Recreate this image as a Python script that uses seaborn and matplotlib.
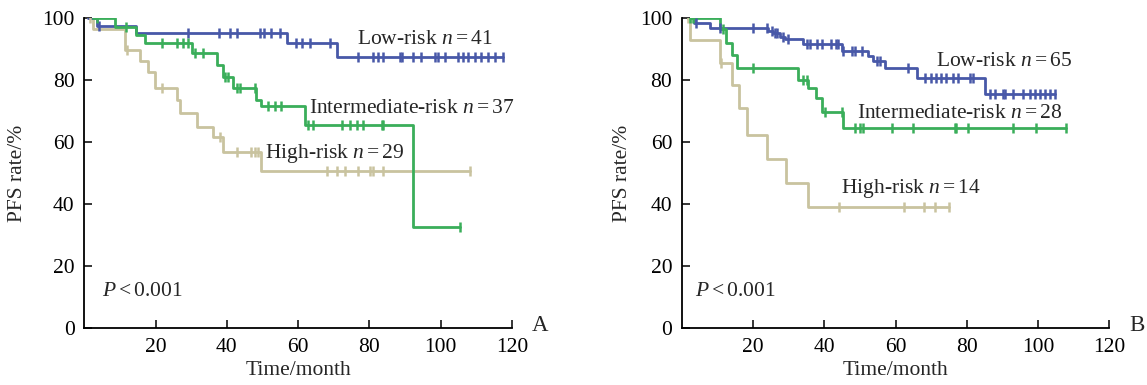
import numpy as np
import pandas as pd
import seaborn as sns
import matplotlib
matplotlib.use("Agg")
import matplotlib.pyplot as plt

# ---- panel A: step times / survival (%) / censor times ----
A_LOW_T = [1, 3.5, 14.5, 57, 71, 117.5]
A_LOW_S = [100, 97.6, 95.1, 92.0, 87.6, 87.6]
A_LOW_CENS = [4, 29, 37.9, 40.8, 42.7, 49.3, 50.4, 52.3, 54.9, 59.3, 61, 63.3, 68.9,
              76.8, 81, 82.4, 83.8, 88.5, 89, 92.2, 94.6, 98.3, 99.3, 101.2, 104.9,
              106.3, 107.7, 109.5, 111.4, 113.3, 115.1, 117.5]

A_MID_T = [2.5, 8.6, 14.5, 17, 30.2, 37.3, 39, 41.8, 48.3, 49.7, 61.8, 92.2, 105.3]
A_MID_S = [100, 97.3, 94.6, 91.9, 88.7, 84.9, 81.2, 77.4, 73.6, 71.8, 65.6, 32.8, 32.8]
A_MID_CENS = [3.5, 11.7, 21.7, 25.9, 27.8, 29.2, 31, 33.4, 39.5, 40.2, 42.7, 43.6, 47.9,
              51.5, 53.5, 55.3, 62.8, 64.2, 72.2, 74.5, 76.4, 78.2, 83.4, 83.8, 105.3]

A_HIGH_T = [1, 2.5, 11.4, 15.6, 17.9, 19.8, 25.9, 26.8, 31.5, 36.2, 39, 49.7, 108.1]
A_HIGH_S = [100, 96.6, 89.7, 86.2, 82.8, 77.6, 73.6, 69.4, 65.0, 61.8, 57.0, 50.8, 50.8]
A_HIGH_CENS = [1.5, 11.9, 21.7, 38, 42.7, 46.9, 47.9, 48.8, 68, 70.8, 73.1, 76.8,
               80.1, 81, 83.8, 108.1]

# ---- panel B ----
B_LOW_T = [2.2, 3.5, 7.9, 24.3, 25.5, 27.5, 28.9, 34.1, 44.9, 52.3, 53.7, 57, 65.9, 85.1, 104.8]
B_LOW_S = [100, 98.5, 96.9, 96.0, 95.2, 94.0, 93.2, 91.6, 89.6, 87.8, 86.3, 83.9, 80.6, 75.5, 75.5]
B_LOW_CENS = [3.9, 10.7, 20, 23.8, 25.2, 26.1, 26.6, 28.5, 29.9, 35, 36, 37.8, 39.2, 42,
              43.4, 43.9, 45.3, 47.7, 48.6, 50.5, 54.7, 55.6, 63.6, 68.3, 70.1, 71.5,
              72.9, 74.3, 76.2, 77.6, 80.9, 81.8, 86.5, 88, 90.3, 90.8, 93, 95.9, 97.8,
              99.2, 100.6, 102, 103.4, 104.8]

B_MID_T = [1.8, 10.7, 12.5, 14, 15.4, 32.7, 35.5, 37.6, 39.2, 45.3, 108]
B_MID_S = [100, 96.4, 92.0, 88.2, 83.9, 80.1, 77.4, 74.2, 69.9, 64.5, 64.5]
B_MID_CENS = [2.2, 3.2, 11.5, 20, 34.1, 35, 40.2, 44.9, 48.6, 50, 51, 58.9, 64.9,
              76.6, 77.1, 80.4, 93, 99.6, 108]

B_HIGH_T = [1.8, 2.2, 10.7, 14, 16.1, 18.2, 23.8, 29.2, 35.5, 75]
B_HIGH_S = [100, 92.9, 85.7, 78.6, 71.0, 62.4, 54.5, 46.8, 39.0, 39.0]
B_HIGH_CENS = [1.8, 11, 44, 62.5, 68, 71, 75]

X_TICKS = [20, 40, 60, 80, 100, 120]
Y_TICKS = [0, 20, 40, 60, 80, 100]

BLUE = "#4858a8"
GREEN = "#3aae5a"
TAN = "#c9c39f"

sns.set_theme(style="ticks")
plt.rcParams["font.family"] = ["Liberation Serif", "DejaVu Serif"]
plt.rcParams["mathtext.fontset"] = "custom"
plt.rcParams["mathtext.rm"] = "Liberation Serif"
plt.rcParams["mathtext.it"] = "Liberation Serif:italic"

FS = 15.5


def step_value(times, surv, t):
    idx = np.searchsorted(times, t, side="right") - 1
    return np.asarray(surv)[np.clip(idx, 0, len(surv) - 1)]


def draw_curve(ax, times, surv, cens, color):
    df = pd.DataFrame({"time": times, "surv": surv})
    sns.lineplot(data=df, x="time", y="surv", ax=ax, color=color, lw=2.0,
                 drawstyle="steps-post", estimator=None, sort=False)
    cdf = pd.DataFrame({"time": cens, "surv": step_value(times, surv, np.array(cens))})
    sns.scatterplot(data=cdf, x="time", y="surv", ax=ax, marker="|", color=color,
                    s=60, linewidth=1.8, zorder=3)


def style_axes(ax, letter, ylab_x):
    ax.set_xlim(0, 120)
    ax.set_ylim(0, 100)
    ax.set_xticks(X_TICKS)
    ax.set_yticks(Y_TICKS)
    ax.tick_params(direction="in", length=6, width=1.1, labelsize=FS, pad=7, colors="black")
    for s in ["left", "bottom"]:
        ax.spines[s].set_linewidth(1.3)
        ax.spines[s].set_color("black")
    sns.despine(ax=ax)
    ax.set_xlabel("Time/month", fontsize=FS)
    ax.set_ylabel("PFS rate/%", fontsize=FS)
    ax.xaxis.set_label_coords(0.5, -0.105)
    ax.yaxis.set_label_coords(ylab_x, 0.5)
    ax.text(1.065, 0.01, letter, transform=ax.transAxes, fontsize=FS + 1,
            ha="center", va="center")


fig = plt.figure(figsize=(11.47, 3.85), dpi=100)
ax_a = fig.add_axes([0.0735, 0.1473, 0.3729, 0.8052])
ax_b = fig.add_axes([0.5946, 0.1473, 0.3723, 0.8052])

draw_curve(ax_a, A_HIGH_T, A_HIGH_S, A_HIGH_CENS, TAN)
draw_curve(ax_a, A_LOW_T, A_LOW_S, A_LOW_CENS, BLUE)
draw_curve(ax_a, A_MID_T, A_MID_S, A_MID_CENS, GREEN)

draw_curve(ax_b, B_HIGH_T, B_HIGH_S, B_HIGH_CENS, TAN)
draw_curve(ax_b, B_LOW_T, B_LOW_S, B_LOW_CENS, BLUE)
draw_curve(ax_b, B_MID_T, B_MID_S, B_MID_CENS, GREEN)

ax_a.text(76.5, 93.2, r"Low-risk $n=41$", fontsize=FS, va="center")
ax_a.text(63.0, 70.9, r"Intermediate-risk $n=37$", fontsize=FS, va="center")
ax_a.text(50.7, 56.5, r"High-risk $n=29$", fontsize=FS, va="center")
ax_a.text(4.9, 11.8, r"$P<0.001$", fontsize=FS, va="center")

ax_b.text(71.5, 86.2, r"Low-risk $n=65$", fontsize=FS, va="center")
ax_b.text(49.2, 69.4, r"Intermediate-risk $n=28$", fontsize=FS, va="center")
ax_b.text(44.6, 45.2, r"High-risk $n=14$", fontsize=FS, va="center")
ax_b.text(3.7, 11.8, r"$P<0.001$", fontsize=FS, va="center")

style_axes(ax_a, "A", -0.134)
style_axes(ax_b, "B", -0.117)

fig.savefig("out.png", dpi=100)
